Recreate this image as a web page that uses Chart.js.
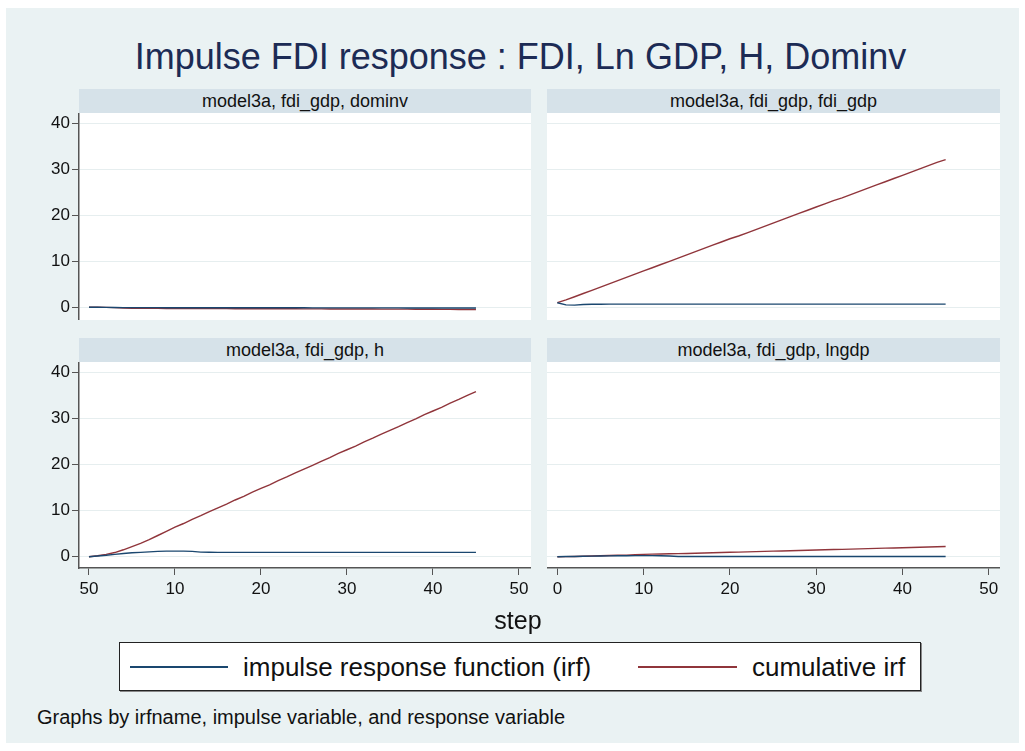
<!DOCTYPE html>
<html lang="en">
  <head>
    <meta charset="UTF-8" />
    <title>Impulse FDI response</title>
    <script src="https://cdn.jsdelivr.net/npm/chart.js"></script>
    <style>
      body {
        margin: 0;
        background: #ffffff;
        font-family: "Liberation Sans", Arial, Helvetica, sans-serif;
      }
      .graph {
        position: absolute;
        left: 6px;
        top: 8px;
        width: 1013px;
        height: 735px;
        background: #eaf2f3;
      }
      .abs {
        position: absolute;
      }
      .title {
        left: 0;
        width: 1041px;
        top: 39px;
        text-align: center;
        font-size: 36px;
        line-height: 36px;
        color: #1c2b55;
        white-space: nowrap;
      }
      .strip {
        height: 24px;
        line-height: 24px;
        background: #d6e2e9;
        text-align: center;
        font-size: 18px;
        color: #111;
        white-space: nowrap;
      }
      .white {
        background: #ffffff;
      }
      .legend {
        left: 119px;
        top: 642px;
        width: 800px;
        height: 47px;
        background: #fff;
        border: 1px solid #222;
        box-shadow: 1px 1px 0 #888;
      }
      .legline {
        height: 2px;
        top: 23px;
      }
      .legtext {
        font-size: 26px;
        line-height: 26px;
        top: 11px;
        color: #111;
        white-space: nowrap;
      }
    </style>
  </head>
  <body>
    <div class="graph"></div>
    <div class="abs title">Impulse FDI response : FDI, Ln GDP, H, Dominv</div>

    <div class="abs strip" style="left: 79px; top: 89px; width: 452px">model3a, fdi_gdp, dominv</div>
    <div class="abs strip" style="left: 547px; top: 89px; width: 453px">model3a, fdi_gdp, fdi_gdp</div>
    <div class="abs strip" style="left: 79px; top: 338px; width: 452px">model3a, fdi_gdp, h</div>
    <div class="abs strip" style="left: 547px; top: 338px; width: 453px">model3a, fdi_gdp, lngdp</div>

    <!-- white plot regions -->
    <div class="abs white" style="left: 79px; top: 113px; width: 452px; height: 207px"></div>
    <div class="abs white" style="left: 547px; top: 113px; width: 453px; height: 207px"></div>
    <div class="abs white" style="left: 79px; top: 362px; width: 452px; height: 206px"></div>
    <div class="abs white" style="left: 547px; top: 362px; width: 453px; height: 206px"></div>

    <div class="abs" style="left: 20px; top: 113px; width: 511px; height: 207px">
      <canvas id="pDominv"></canvas>
    </div>
    <div class="abs" style="left: 547px; top: 113px; width: 453px; height: 207px">
      <canvas id="pFdi"></canvas>
    </div>
    <div class="abs" style="left: 20px; top: 362px; width: 511px; height: 246px">
      <canvas id="pH"></canvas>
    </div>
    <div class="abs" style="left: 547px; top: 362px; width: 453px; height: 246px">
      <canvas id="pLngdp"></canvas>
    </div>

    <div class="abs" style="left: 468px; top: 606px; width: 100px; text-align: center; font-size: 25px; line-height: 28px; color: #111">step</div>

    <div class="abs legend">
      <div class="abs legline" style="left: 10px; width: 98px; background: #1a476f"></div>
      <div class="abs legtext" style="left: 123px">impulse response function (irf)</div>
      <div class="abs legline" style="left: 518px; width: 99px; background: #90353b"></div>
      <div class="abs legtext" style="left: 632px">cumulative irf</div>
    </div>

    <div class="abs" style="left: 37px; top: 706px; font-size: 20px; line-height: 22px; color: #111; white-space: nowrap">
      Graphs by irfname, impulse variable, and response variable
    </div>

    <script>
      // steps (x axis)
      const steps = [
        0, 1, 2, 3, 4, 5, 6, 7, 8, 9,
        10, 11, 12, 13, 14, 15, 16, 17, 18, 19,
        20, 21, 22, 23, 24, 25, 26, 27, 28, 29,
        30, 31, 32, 33, 34, 35, 36, 37, 38, 39,
        40, 41, 42, 43, 44, 45,
      ];

      // model3a, fdi_gdp, dominv
      const irfDominv = [
        0, 0, -0.02, -0.04, -0.06, -0.07, -0.08, -0.08, -0.08, -0.09,
        -0.09, -0.09, -0.09, -0.1, -0.1, -0.1, -0.1, -0.1, -0.1, -0.1,
        -0.11, -0.11, -0.11, -0.11, -0.11, -0.11, -0.12, -0.12, -0.12, -0.12,
        -0.12, -0.12, -0.13, -0.13, -0.13, -0.13, -0.13, -0.14, -0.14, -0.14,
        -0.14, -0.14, -0.15, -0.15, -0.15, -0.15,
      ];
      const cirfDominv = [
        0, 0, -0.02, -0.07, -0.15, -0.2, -0.22, -0.23, -0.24, -0.25,
        -0.25, -0.26, -0.26, -0.27, -0.27, -0.28, -0.29, -0.3, -0.3, -0.31,
        -0.31, -0.32, -0.32, -0.33, -0.33, -0.34, -0.34, -0.35, -0.36, -0.36,
        -0.37, -0.37, -0.38, -0.38, -0.39, -0.39, -0.4, -0.4, -0.41, -0.42,
        -0.43, -0.45, -0.46, -0.47, -0.48, -0.49,
      ];

      // model3a, fdi_gdp, fdi_gdp
      const irfFdi = [
        1.0, 0.52, 0.48, 0.6, 0.66, 0.68, 0.69, 0.69, 0.7, 0.7,
        0.7, 0.7, 0.7, 0.7, 0.7, 0.7, 0.7, 0.7, 0.7, 0.7,
        0.7, 0.7, 0.7, 0.7, 0.7, 0.7, 0.7, 0.7, 0.7, 0.7,
        0.7, 0.7, 0.7, 0.7, 0.7, 0.7, 0.7, 0.7, 0.7, 0.7,
        0.7, 0.7, 0.7, 0.7, 0.7, 0.7,
      ];
      const cirfFdi = [
        1.0, 1.6, 2.3, 3.0, 3.7, 4.4, 5.1, 5.8, 6.5, 7.2,
        7.9, 8.6, 9.3, 10.0, 10.7, 11.4, 12.1, 12.8, 13.5, 14.2,
        14.9, 15.5, 16.2, 16.9, 17.6, 18.3, 19.0, 19.7, 20.4, 21.1,
        21.8, 22.5, 23.2, 23.8, 24.5, 25.2, 25.9, 26.6, 27.3, 28.0,
        28.7, 29.4, 30.1, 30.8, 31.5, 32.1,
      ];

      // model3a, fdi_gdp, h
      const irfH = [
        0, 0.15, 0.3, 0.5, 0.7, 0.85, 0.95, 1.05, 1.15, 1.2,
        1.2, 1.2, 1.15, 1.0, 0.95, 0.94, 0.94, 0.94, 0.94, 0.94,
        0.94, 0.94, 0.94, 0.94, 0.94, 0.94, 0.94, 0.94, 0.94, 0.94,
        0.94, 0.94, 0.94, 0.94, 0.94, 0.94, 0.94, 0.94, 0.94, 0.94,
        0.94, 0.94, 0.94, 0.94, 0.94, 0.94,
      ];
      const cirfH = [
        0, 0.2, 0.5, 0.9, 1.5, 2.2, 2.9, 3.7, 4.6, 5.5,
        6.4, 7.2, 8.1, 8.9, 9.8, 10.6, 11.4, 12.3, 13.1, 14.0,
        14.8, 15.6, 16.5, 17.3, 18.2, 19.0, 19.8, 20.7, 21.5, 22.4,
        23.2, 24.0, 24.9, 25.7, 26.6, 27.4, 28.2, 29.1, 29.9, 30.8,
        31.6, 32.4, 33.3, 34.1, 35.0, 35.8,
      ];

      // model3a, fdi_gdp, lngdp
      const irfLngdp = [
        0, 0.03, 0.06, 0.09, 0.12, 0.15, 0.18, 0.2, 0.22, 0.23,
        0.24, 0.24, 0.22, 0.15, 0.05, 0.03, 0.03, 0.03, 0.03, 0.03,
        0.03, 0.03, 0.03, 0.03, 0.03, 0.03, 0.03, 0.03, 0.03, 0.03,
        0.03, 0.03, 0.03, 0.03, 0.03, 0.03, 0.03, 0.03, 0.03, 0.03,
        0.03, 0.03, 0.03, 0.03, 0.03, 0.03,
      ];
      const cirfLngdp = [
        0, 0.02, 0.05, 0.1, 0.15, 0.2, 0.25, 0.3, 0.35, 0.42,
        0.5, 0.55, 0.6, 0.63, 0.66, 0.7, 0.75, 0.8, 0.85, 0.9,
        0.95, 1.0, 1.05, 1.1, 1.15, 1.2, 1.25, 1.3, 1.35, 1.4,
        1.45, 1.5, 1.55, 1.6, 1.65, 1.7, 1.75, 1.8, 1.85, 1.9,
        1.95, 2.0, 2.05, 2.1, 2.15, 2.2,
      ];

      // tick labels
      const valueTicks = [0, 10, 20, 30, 40];
      const stepTicks = [0, 10, 20, 30, 40, 50];
      const leftStepLabels = ["50", "10", "20", "30", "40", "50"];
      const rightStepLabels = ["0", "10", "20", "30", "40", "50"];

      Chart.defaults.font.family = '"Liberation Sans", Arial, Helvetica, sans-serif';
      Chart.defaults.color = "#111";

      const axisColor = "#555";
      const gridColor = "#e6eeef";

      function toPoints(vals) {
        return steps.map((s, i) => ({ x: s, y: vals[i] }));
      }

      function makePanel(id, irf, cirf, o) {
        const yScale = {
          type: "linear",
          min: o.yMin,
          max: o.yMax,
          afterBuildTicks: (axis) => {
            axis.ticks = valueTicks.map((v) => ({ value: v }));
          },
          afterFit: (axis) => {
            axis.width = o.showY ? 59 : 0;
            axis.paddingTop = 0;
            axis.paddingBottom = 0;
          },
          border: { display: o.showY, color: axisColor, width: 1.5 },
          grid: {
            color: gridColor,
            lineWidth: 1,
            drawTicks: o.showY,
            tickLength: 7,
            tickColor: axisColor,
          },
          ticks: {
            display: o.showY,
            padding: 2,
            font: { size: 17 },
            callback: (v) => String(v),
          },
        };

        const xScale = {
          type: "linear",
          display: o.xLabels != null,
          min: o.xMin,
          max: o.xMax,
          afterBuildTicks: (axis) => {
            axis.ticks = stepTicks.map((v) => ({ value: v }));
          },
          afterFit: (axis) => {
            axis.height = o.xLabels ? 40 : 0;
            axis.paddingLeft = 0;
            axis.paddingRight = 0;
          },
          border: { display: true, color: axisColor, width: 1.5 },
          grid: {
            display: true,
            drawOnChartArea: false,
            drawTicks: true,
            tickLength: 7,
            tickColor: axisColor,
          },
          ticks: {
            padding: 4,
            maxRotation: 0,
            autoSkip: false,
            font: { size: 17 },
            callback: (v, i) => (o.xLabels ? o.xLabels[i] : ""),
          },
        };

        new Chart(document.getElementById(id), {
          type: "line",
          data: {
            datasets: [
              {
                label: "impulse response function (irf)",
                data: toPoints(irf),
                borderColor: "#1a476f",
                borderWidth: 1.4,
                pointRadius: 0,
                tension: 0,
              },
              {
                label: "cumulative irf",
                data: toPoints(cirf),
                borderColor: "#90353b",
                borderWidth: 1.4,
                pointRadius: 0,
                tension: 0,
              },
            ],
          },
          options: {
            responsive: true,
            maintainAspectRatio: false,
            animation: false,
            layout: { padding: 0 },
            plugins: {
              legend: { display: false },
              tooltip: { enabled: false },
            },
            scales: { x: xScale, y: yScale },
          },
        });
      }

      makePanel("pDominv", irfDominv, cirfDominv, {
        showY: true, xLabels: null, yMin: -2.76, yMax: 42.24, xMin: -1.16, xMax: 51.4,
      });
      makePanel("pFdi", irfFdi, cirfFdi, {
        showY: false, xLabels: null, yMin: -2.76, yMax: 42.24, xMin: -1.2, xMax: 51.3,
      });
      makePanel("pH", irfH, cirfH, {
        showY: true, xLabels: leftStepLabels, yMin: -2.45, yMax: 42.23, xMin: -1.16, xMax: 51.4,
      });
      makePanel("pLngdp", irfLngdp, cirfLngdp, {
        showY: false, xLabels: rightStepLabels, yMin: -2.45, yMax: 42.23, xMin: -1.2, xMax: 51.3,
      });
    </script>
  </body>
</html>
